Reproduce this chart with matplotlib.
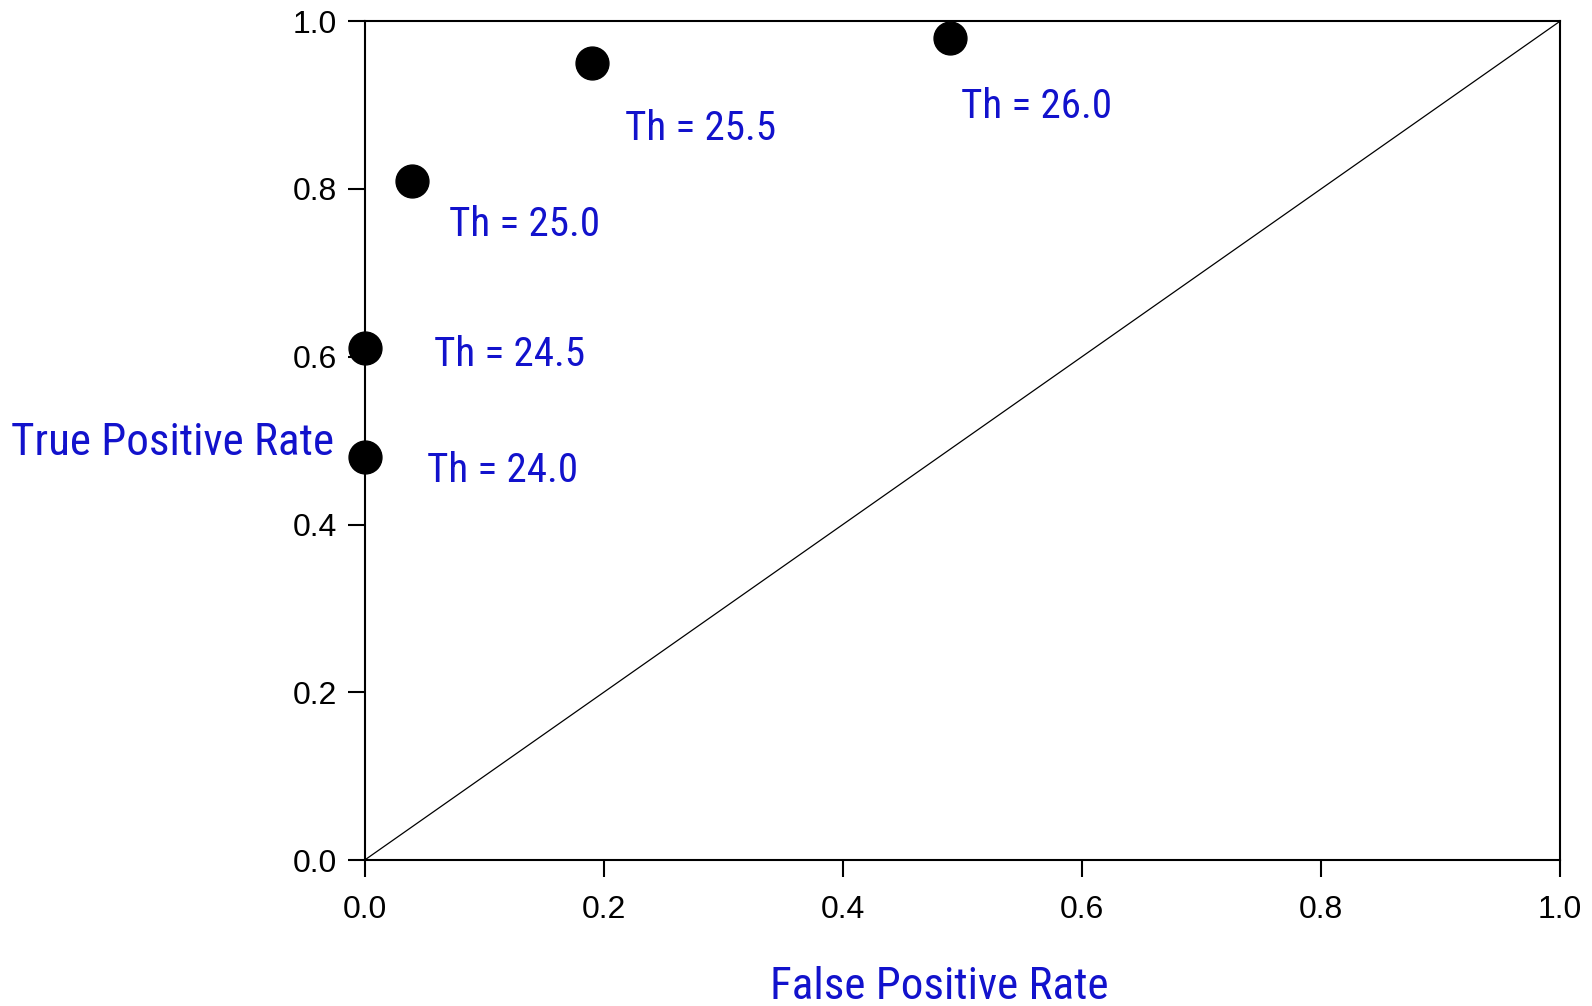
import matplotlib
matplotlib.use('Agg')
import matplotlib.pyplot as plt

# ROC points for each threshold
fpr = [0.0, 0.0, 0.04, 0.19, 0.49]
tpr = [0.48, 0.61, 0.81, 0.95, 0.98]
labels = ['Th = 24.0', 'Th = 24.5', 'Th = 25.0', 'Th = 25.5', 'Th = 26.0']
label_x = [0.052, 0.058, 0.071, 0.218, 0.499]
label_y = [0.451, 0.589, 0.744, 0.858, 0.884]
ticks = [0.0, 0.2, 0.4, 0.6, 0.8, 1.0]

plt.rcParams['font.family'] = ['Liberation Sans', 'DejaVu Sans']
narrow = ['Roboto Condensed', 'DejaVu Sans']
blue = '#1212cc'

fig = plt.figure(figsize=(15.92, 10.06), dpi=100)
ax = fig.add_axes([0.229, 0.145, 0.751, 0.834])

ax.plot([0, 1], [0, 1], color='black', lw=0.9)
ax.scatter(fpr, tpr, s=560, color='black', zorder=3, clip_on=False)

for lx, ly, t in zip(label_x, label_y, labels):
    ax.text(lx, ly, t, color=blue, fontsize=29.5, family=narrow,
            ha='left', va='baseline')

ax.set_xlim(0, 1)
ax.set_ylim(0, 1)
ax.set_xticks(ticks)
ax.set_yticks(ticks)
ax.set_xticklabels(['%.1f' % t for t in ticks], fontsize=23)
ax.set_yticklabels(['%.1f' % t for t in ticks], fontsize=23)
ax.tick_params(direction='out', length=12, width=1.5)
ax.tick_params(axis='x', pad=13)
ax.tick_params(axis='y', pad=8)
for s in ax.spines.values():
    s.set_linewidth(1.5)

# axis titles
ax.text(0.481, -0.166, 'False Positive Rate', color=blue, fontsize=32.5,
        family=narrow, ha='center', va='baseline', transform=ax.transAxes)
ax.text(-0.0255, 0.483, 'True Positive Rate', color=blue, fontsize=32.5,
        family=narrow, ha='right', va='baseline', transform=ax.transAxes)

fig.savefig('out.png', dpi=100)
